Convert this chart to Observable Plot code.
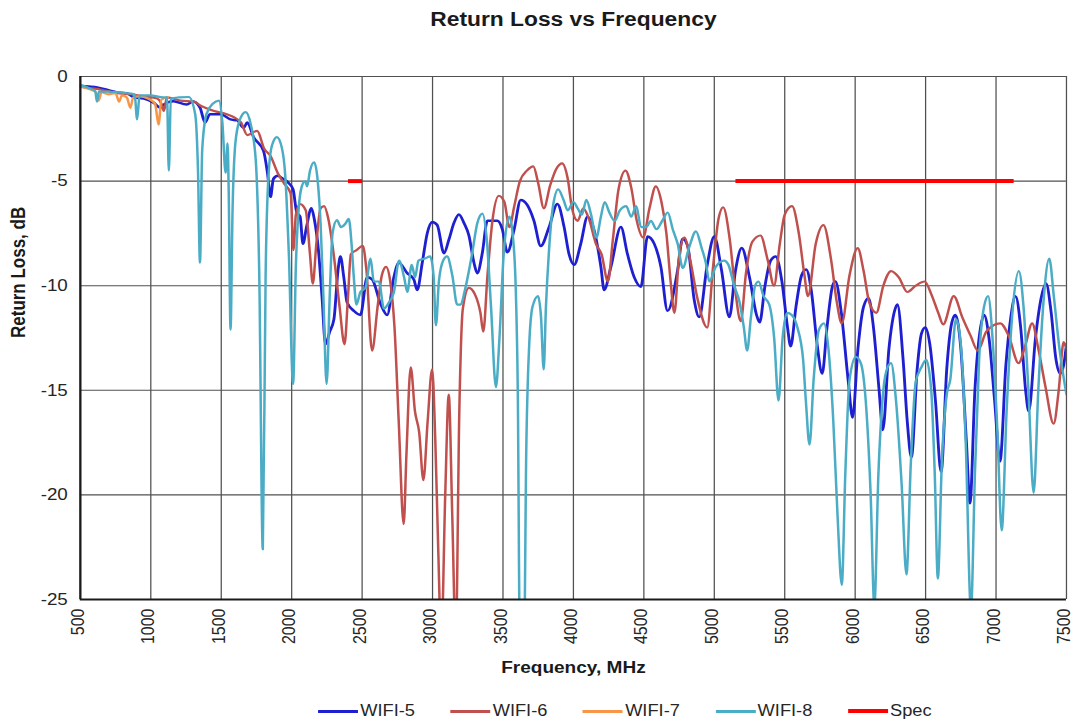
<!DOCTYPE html>
<html><head><meta charset="utf-8">
<script src="https://cdn.jsdelivr.net/npm/d3@7"></script>
<script src="https://cdn.jsdelivr.net/npm/@observablehq/plot@0.6"></script>
<style>
html,body{margin:0;padding:0;background:#fff;}
#stage{width:1075px;height:721px;overflow:hidden;position:relative;}
#wrap{position:absolute;left:0;top:0;width:943px;height:721px;transform:scaleX(1.14);transform-origin:0 0;font-family:"Liberation Sans",Arial,sans-serif;}
#title{position:absolute;left:70px;width:866px;top:0;height:38px;line-height:38px;text-align:center;font-weight:bold;font-size:20px;color:#1a1a1a;}
#chart{position:absolute;left:0;top:38px;width:950px;height:652px;}
#chart svg{max-width:none !important;}
#legend{position:absolute;top:700px;left:279px;display:flex;font-size:16px;color:#262626;height:22px;}
.item{width:116.2px;display:flex;align-items:center;white-space:nowrap;}
.sw{width:35px;margin-right:2px;}
</style></head>
<body><div id="stage"><div id="wrap"><div id="title">Return Loss vs Frequency</div><div id="chart"></div><div id="legend"></div></div></div>
<script>
// ---- data (frequency in MHz, return loss in dB) ----
const xTicks = [500,1000,1500,2000,2500,3000,3500,4000,4500,5000,5500,6000,6500,7000,7500];
const yTicks = [0,-5,-10,-15,-20,-25];

const wifi5Freq = [500,560,620,700,780,830,880,950,1020,1070,1090,1160,1255,1300,1350,1385,1420,1495,1565,1613,1660,1684,1730,1800,1828,1850,1870,1900,1940,1980,2010,2036,2060,2080,2105,2140,2160,2190,2215,2240,2270,2300,2330,2346,2370,2393,2441,2488,2536,2571,2630,2678,2725,2761,2820,2867,2891,2927,2962,2998,3033,3081,3116,3152,3187,3223,3258,3294,3318,3353,3389,3460,3495,3531,3578,3626,3673,3720,3768,3827,3886,3934,3969,4005,4052,4100,4147,4195,4218,4266,4337,4384,4432,4479,4526,4574,4621,4668,4740,4775,4811,4858,4893,4950,5000,5050,5107,5150,5195,5250,5300,5322,5360,5400,5436,5480,5520,5542,5580,5620,5652,5690,5730,5766,5800,5840,5860,5900,5950,5982,6020,6060,6095,6130,6170,6196,6240,6280,6300,6340,6370,6399,6440,6470,6498,6530,6570,6610,6650,6685,6711,6750,6790,6815,6850,6890,6915,6950,6990,7028,7070,7105,7138,7175,7210,7232,7280,7320,7355,7390,7425,7455,7480,7500];
const wifi5Db = [-0.45,-0.48,-0.52,-0.65,-0.78,-0.8,-1.0,-1.05,-1.25,-1.5,-1.35,-1.18,-1.34,-1.2,-1.5,-2.2,-1.8,-1.8,-2.05,-2.1,-2.45,-2.2,-2.9,-3.55,-4.6,-5.75,-4.9,-4.75,-4.9,-5.1,-5.4,-6.5,-6.7,-8.0,-7.2,-6.3,-6.8,-8.3,-10.5,-12.8,-12.2,-11.6,-9.2,-8.6,-9.6,-10.8,-11.2,-11.4,-9.6,-9.7,-10.85,-11.4,-9.6,-8.9,-9.4,-9.7,-10.2,-8.9,-7.5,-6.95,-7.1,-8.45,-7.8,-7.0,-6.6,-7.0,-7.6,-8.9,-9.4,-8.45,-6.9,-6.9,-7.3,-8.4,-7.35,-5.9,-6.15,-6.9,-8.1,-7.2,-6.1,-7.2,-8.5,-9.0,-8.0,-6.7,-7.35,-9.1,-10.2,-9.1,-7.2,-8.5,-9.6,-10.05,-7.65,-8.0,-9.1,-11.2,-9.25,-7.75,-8.1,-10.7,-11.5,-9.0,-7.65,-9.2,-11.5,-9.3,-8.2,-9.6,-11.4,-11.75,-10.0,-8.8,-8.6,-9.8,-12.0,-12.9,-11.0,-9.5,-9.23,-10.3,-12.8,-14.2,-12.0,-10.0,-9.8,-11.2,-14.5,-16.3,-13.0,-11.0,-10.6,-12.0,-15.0,-16.9,-13.0,-11.2,-10.9,-13.5,-16.5,-18.2,-14.0,-12.3,-12.0,-12.8,-15.5,-18.9,-14.0,-11.8,-11.4,-13.0,-17.5,-20.4,-15.0,-12.0,-11.4,-12.5,-15.5,-18.4,-13.8,-11.5,-10.5,-12.0,-15.0,-16.0,-12.5,-10.6,-9.9,-11.2,-13.5,-14.2,-13.8,-12.8];

const wifi6Freq = [500,560,640,760,860,950,1045,1075,1093,1115,1210,1305,1355,1450,1540,1640,1685,1755,1805,1850,1900,1945,1993,2012,2030,2060,2100,2130,2150,2175,2205,2230,2260,2300,2340,2375,2400,2420,2460,2505,2530,2571,2610,2640,2670,2700,2730,2760,2795,2815,2845,2875,2905,2935,2965,2997,3020,3040,3062,3090,3115,3140,3165,3190,3215,3258,3300,3340,3360,3390,3425,3470,3510,3545,3580,3620,3670,3715,3750,3790,3835,3880,3920,3960,3990,4030,4070,4110,4160,4200,4245,4280,4320,4370,4410,4450,4495,4540,4585,4625,4660,4690,4717,4750,4788,4830,4880,4950,4990,5030,5063,5110,5150,5188,5225,5270,5328,5380,5424,5465,5500,5552,5600,5640,5665,5720,5775,5830,5870,5905,5960,6018,6060,6100,6150,6200,6255,6310,6370,6430,6493,6540,6590,6625,6700,6760,6820,6870,6930,6980,7030,7090,7160,7210,7256,7300,7350,7409,7445,7480,7500];
const wifi6Db = [-0.5,-0.55,-0.62,-0.8,-0.85,-0.95,-1.05,-1.3,-1.65,-1.0,-1.15,-1.2,-1.4,-1.65,-1.8,-2.2,-2.8,-2.6,-3.45,-3.8,-4.6,-5.1,-5.6,-8.3,-6.6,-6.1,-6.4,-8.5,-9.9,-8.0,-6.3,-6.2,-6.8,-8.6,-11.0,-12.8,-10.5,-8.5,-8.3,-8.1,-9.2,-13.1,-11.0,-9.5,-9.1,-9.8,-12.0,-16.5,-21.4,-18.0,-13.9,-16.0,-17.0,-19.3,-16.5,-14.0,-17.5,-22.5,-27,-20,-15.2,-21,-27,-16,-11.1,-10.1,-10.4,-11.3,-12.2,-9.5,-6.9,-5.7,-6.0,-7.2,-6.2,-5.0,-4.5,-4.3,-5.1,-6.3,-5.2,-4.4,-4.15,-4.9,-6.3,-6.9,-6.3,-6.8,-8.0,-8.5,-9.8,-7.8,-5.4,-4.5,-5.3,-6.9,-7.7,-6.3,-5.25,-6.0,-7.5,-9.8,-11.3,-8.6,-7.7,-8.8,-10.6,-12.0,-9.2,-6.8,-6.25,-7.8,-10.3,-11.7,-9.4,-7.9,-7.6,-8.8,-10.0,-8.0,-6.6,-6.2,-7.5,-9.5,-10.5,-8.0,-7.1,-8.8,-10.8,-11.8,-9.5,-8.2,-9.3,-10.8,-11.3,-10.0,-9.3,-9.6,-10.3,-10.0,-9.8,-10.4,-11.3,-11.85,-10.5,-11.5,-12.4,-13.1,-12.2,-11.9,-11.8,-12.4,-13.7,-12.8,-11.8,-13.0,-14.8,-16.6,-15.0,-12.7,-13.0];

const wifi7Freq = [500,560,610,630,650,700,750,775,795,830,855,875,920,980,1030,1055,1075,1120];
const wifi7Db = [-0.45,-0.6,-0.75,-1.15,-0.75,-0.85,-0.8,-1.2,-0.9,-1.0,-1.5,-1.0,-0.95,-1.05,-1.3,-2.3,-1.1,-1.0];

const wifi8Freq = [500,560,605,618,632,700,760,830,885,903,920,995,1090,1115,1128,1142,1200,1270,1315,1335,1349,1365,1395,1440,1484,1508,1531,1545,1553,1566,1580,1600,1630,1673,1710,1745,1770,1795,1815,1835,1860,1895,1930,1955,1980,2010,2030,2050,2070,2095,2110,2130,2160,2185,2205,2225,2248,2270,2290,2321,2350,2381,2405,2425,2440,2460,2488,2524,2560,2583,2619,2655,2690,2726,2762,2798,2821,2852,2876,2900,2947,2983,3007,3024,3045,3075,3103,3140,3175,3200,3230,3280,3318,3354,3385,3415,3450,3475,3505,3545,3568,3590,3605,3620,3650,3665,3685,3710,3749,3770,3789,3805,3830,3855,3892,3930,3960,4000,4030,4060,4092,4125,4163,4195,4222,4255,4292,4330,4375,4410,4446,4480,4516,4550,4590,4630,4670,4705,4740,4776,4820,4870,4910,4940,4965,5010,5070,5100,5141,5180,5210,5233,5260,5290,5314,5350,5390,5425,5456,5485,5517,5550,5590,5630,5650,5676,5705,5743,5779,5810,5845,5875,5905,5930,5960,6005,6040,6075,6110,6136,6165,6200,6230,6255,6290,6330,6364,6395,6430,6470,6505,6540,6565,6587,6615,6650,6675,6716,6750,6785,6822,6850,6880,6915,6944,6975,7010,7040,7075,7120,7162,7195,7230,7267,7300,7340,7378,7410,7450,7500];
const wifi8Db = [-0.4,-0.55,-0.7,-1.2,-0.72,-0.72,-0.75,-0.8,-0.85,-2.05,-0.9,-0.9,-1.0,-1.0,-4.5,-1.05,-1.0,-0.98,-1.8,-4.5,-8.9,-3.5,-1.8,-1.3,-1.15,-2.2,-4.6,-3.2,-5.5,-12.1,-6.5,-3.2,-2.1,-1.7,-2.3,-4.0,-9.5,-22.6,-9.5,-4.8,-3.3,-2.9,-3.4,-4.8,-8.5,-14.7,-9.0,-6.3,-5.3,-5.0,-5.25,-4.5,-4.1,-5.0,-7.0,-10.5,-14.7,-10.5,-7.5,-6.87,-7.2,-7.04,-6.8,-8.0,-9.5,-10.9,-10.3,-10.1,-8.7,-9.8,-9.8,-11.1,-10.8,-10.3,-8.8,-9.6,-10.3,-9.0,-9.6,-8.8,-8.7,-8.6,-9.5,-11.9,-9.8,-8.8,-8.6,-9.5,-10.9,-10.9,-10.2,-8.5,-7.0,-6.55,-7.8,-11.0,-14.85,-12.5,-8.5,-6.7,-7.5,-10.0,-15,-27,-27,-18,-13.0,-11.0,-10.5,-11.5,-14.0,-11.0,-8.0,-6.2,-5.4,-5.9,-6.4,-6.0,-6.3,-6.6,-5.9,-6.6,-7.7,-6.7,-6.0,-6.5,-6.9,-6.4,-6.2,-6.7,-6.2,-7.2,-7.2,-6.9,-7.3,-6.9,-6.5,-7.3,-8.0,-9.15,-8.2,-7.4,-8.2,-8.9,-9.8,-9.1,-8.8,-9.0,-10.0,-10.8,-12.0,-13.1,-11.5,-10.0,-9.8,-10.5,-10.9,-12.5,-15.5,-12.5,-11.3,-11.4,-12.0,-13.5,-15.5,-17.6,-14.5,-12.1,-11.8,-13.0,-16.5,-21.0,-24.3,-19.0,-14.5,-13.4,-13.7,-15.5,-20.0,-25.3,-19.0,-15.0,-13.9,-13.7,-15.5,-19.5,-23.8,-18.5,-14.6,-13.9,-13.55,-15.0,-19.0,-24.0,-18.5,-15.2,-14.5,-11.6,-12.8,-17.5,-25.5,-19.0,-13.5,-11.0,-10.5,-12.5,-17.0,-21.7,-16.0,-11.0,-9.3,-11.0,-15.0,-19.9,-15.0,-10.5,-8.7,-10.5,-13.0,-15.2];

const specFreq = [2400,2500,5150,7125];
const specDb = [-5,-5,-5,-5];
const specBand = ["2.4 GHz","2.4 GHz","5-7 GHz","5-7 GHz"];

const seriesNames = ["WIFI-5","WIFI-6","WIFI-7","WIFI-8","Spec"];
const seriesColors = ["#1f1fd2","#c0504d","#f79646","#4bacc6","#ff0000"];
const seriesWidths = [2.5,2.2,2.2,2.2,4];

// ---- build rows ----
const toRows = (fs, ds) => fs.map((f, i) => ({f, db: ds[i]}));
const curves = [
  toRows(wifi5Freq, wifi5Db),
  toRows(wifi6Freq, wifi6Db),
  toRows(wifi7Freq, wifi7Db),
  toRows(wifi8Freq, wifi8Db)
];
const specRows = specFreq.map((f, i) => ({f, db: specDb[i], band: specBand[i]}));

const fmt = d => String(d);
const chart = Plot.plot({
  width: 950,
  height: 652,
  marginLeft: 70,
  marginRight: 15,
  marginTop: 38,
  marginBottom: 91,
  style: {fontFamily: "Liberation Sans, Arial, sans-serif", background: "#fff", color: "#262626", overflow: "visible", maxWidth: "none"},
  x: {domain: [500, 7500]},
  y: {domain: [-25, 0]},
  marks: [
    Plot.gridX(xTicks, {stroke: "#505050", strokeOpacity: 1, strokeWidth: 1.1}),
    Plot.gridY(yTicks, {stroke: "#505050", strokeOpacity: 1, strokeWidth: 1.1}),
    ...curves.map((rows, i) => Plot.line(rows, {x: "f", y: "db", stroke: seriesColors[i], strokeWidth: seriesWidths[i], curve: "monotone-x", clip: true})),
    Plot.line(specRows, {x: "f", y: "db", z: "band", stroke: seriesColors[4], strokeWidth: seriesWidths[4], strokeLinecap: "butt"}),
    Plot.ruleX([500], {stroke: "#1a1a1a", strokeWidth: 2}),
    Plot.ruleY([-25], {stroke: "#1a1a1a", strokeWidth: 2}),
    Plot.axisX(xTicks, {tickSize: 0, tickPadding: 9, tickRotate: -90, fontSize: 16, dx: -2, label: null, tickFormat: fmt}),
    Plot.axisY(yTicks, {tickSize: 0, tickPadding: 11, fontSize: 16.5, label: null, tickFormat: fmt}),
    Plot.text(["Frequency, MHz"], {frameAnchor: "bottom", dy: 73, fontWeight: "bold", fontSize: 16.7, fill: "#1a1a1a"}),
    Plot.text(["Return Loss, dB"], {frameAnchor: "left", dx: -54, rotate: -90, fontWeight: "bold", fontSize: 17, fill: "#1a1a1a"})
  ]
});
document.getElementById("chart").appendChild(chart);

// ---- legend ----
const legend = document.getElementById("legend");
seriesNames.forEach((name, i) => {
  const item = document.createElement("div");
  item.className = "item";
  const sw = document.createElement("span");
  sw.className = "sw";
  sw.style.height = (i === 4 ? 4 : 3) + "px";
  sw.style.background = seriesColors[i];
  const label = document.createElement("span");
  label.textContent = name;
  item.appendChild(sw);
  item.appendChild(label);
  legend.appendChild(item);
});
</script></body></html>
